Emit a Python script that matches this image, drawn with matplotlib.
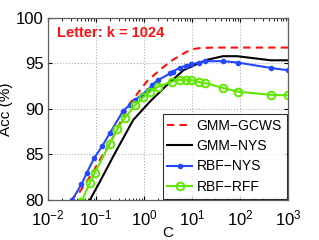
# Letter dataset, k = 1024: accuracy vs C
import numpy as np
import matplotlib
matplotlib.use('Agg')
import matplotlib.pyplot as plt
from matplotlib.ticker import LogLocator, NullFormatter

plt.rcParams['font.family'] = ['Liberation Sans', 'DejaVu Sans']
plt.rcParams['mathtext.fontset'] = 'custom'
plt.rcParams['mathtext.rm'] = 'Liberation Sans'
plt.rcParams['mathtext.it'] = 'Liberation Sans'

# GMM-GCWS (red dashed)
c_gcws = [0.02, 0.03, 0.045, 0.088, 0.121, 0.196, 0.316, 0.51, 1.14, 2.15, 4.0, 7.8, 11, 15, 30, 1000]
acc_gcws = [78.8, 80.0, 80.8, 83.1, 84.4, 86.2, 88.4, 90.6, 93.0, 94.3, 95.4, 96.3, 96.6, 96.7, 96.75, 96.75]

# GMM-NYS (black)
c_nys = [0.06, 0.075, 0.121, 0.23, 0.6, 1.33, 2.97, 6.6, 14.7, 20.5, 44, 87, 440, 1000]
acc_nys = [79.0, 80.0, 82.0, 84.8, 88.8, 90.8, 92.6, 94.25, 95.1, 95.4, 95.8, 95.8, 95.35, 95.35]

# RBF-NYS (blue dots)
c_rbf_nys = [0.032, 0.05, 0.065, 0.092, 0.135, 0.196, 0.37, 0.51, 0.65, 0.89, 1.23, 1.45, 2.0,
             3.5, 4.0, 5.6, 7.5, 9.5, 14, 19, 45, 90, 450, 1000]
acc_rbf_nys = [80.0, 81.7, 83.0, 84.6, 85.9, 87.35, 89.8, 90.45, 90.95, 91.55, 92.1, 92.6, 93.2,
               93.9, 94.1, 94.55, 94.75, 94.9, 95.1, 95.25, 95.25, 95.1, 94.5, 94.25]

# RBF-RFF (green circles)
c_rff = [0.05, 0.075, 0.095, 0.196, 0.28, 0.4, 0.65, 0.97, 1.33, 1.98, 3.8, 5.6, 7.5, 9.5,
         14, 19, 45, 90, 450, 1000]
acc_rff = [79.8, 81.9, 83.0, 86.2, 87.8, 89.0, 90.4, 91.3, 91.9, 92.45, 93.0, 93.2, 93.2, 93.2,
           92.95, 92.85, 92.3, 91.9, 91.55, 91.5]

blue = '#2448ff'
green = '#5fe800'

fig = plt.figure(figsize=(3.19, 2.40), dpi=100)
ax = fig.add_axes([0.150, 0.167, 0.753, 0.758])

ax.plot(c_gcws, acc_gcws, '--', color='#ff1010', lw=1.5, dashes=(3.5, 2.5), label='GMM\u2212GCWS')
ax.plot(c_nys, acc_nys, '-', color='k', lw=1.5, label='GMM\u2212NYS')
ax.plot(c_rbf_nys, acc_rbf_nys, '-', color=blue, lw=1.5, marker='.', ms=6, label='RBF\u2212NYS')
ax.plot(c_rff, acc_rff, '-', color=green, lw=1.5, marker='o', ms=5.5, mfc='none', mew=1.4,
        label='RBF\u2212RFF')

ax.set_xscale('log')
ax.set_xlim(1e-2, 1e3)
ax.set_ylim(80, 100)
ax.set_yticks([80, 85, 90, 95, 100])
ax.xaxis.set_major_locator(LogLocator(base=10, numticks=10))
ax.xaxis.set_minor_locator(LogLocator(base=10, subs=np.arange(2, 10), numticks=20))
ax.xaxis.set_minor_formatter(NullFormatter())

ax.grid(True, which='major', linestyle=':', color='#b0b0b0', lw=0.8)
ax.tick_params(which='both', direction='in', top=True, right=True, labelsize=12, colors='k')
ax.tick_params(which='major', length=3)
ax.tick_params(axis='x', which='major', pad=6.5)
ax.tick_params(axis='y', which='major', pad=3)
ax.tick_params(which='minor', length=1.8)
for s in ax.spines.values():
    s.set_color('#606060')
    s.set_linewidth(0.9)

ax.set_xlabel('C', fontsize=11, labelpad=-2)
ax.set_ylabel('Acc (%)', fontsize=11, labelpad=2)

ax.text(0.04, 0.92, 'Letter: k = 1024', transform=ax.transAxes, color='#ff1010',
        fontsize=10.5, fontweight='bold', va='center', ha='left')

leg = ax.legend(loc='lower right', fontsize=10, frameon=True, fancybox=False,
                edgecolor='k', handlelength=1.8, handletextpad=0.3, borderaxespad=0.1,
                labelspacing=0.45, borderpad=0.35)
leg.get_frame().set_linewidth(0.8)

fig.savefig('out.png', dpi=100)
